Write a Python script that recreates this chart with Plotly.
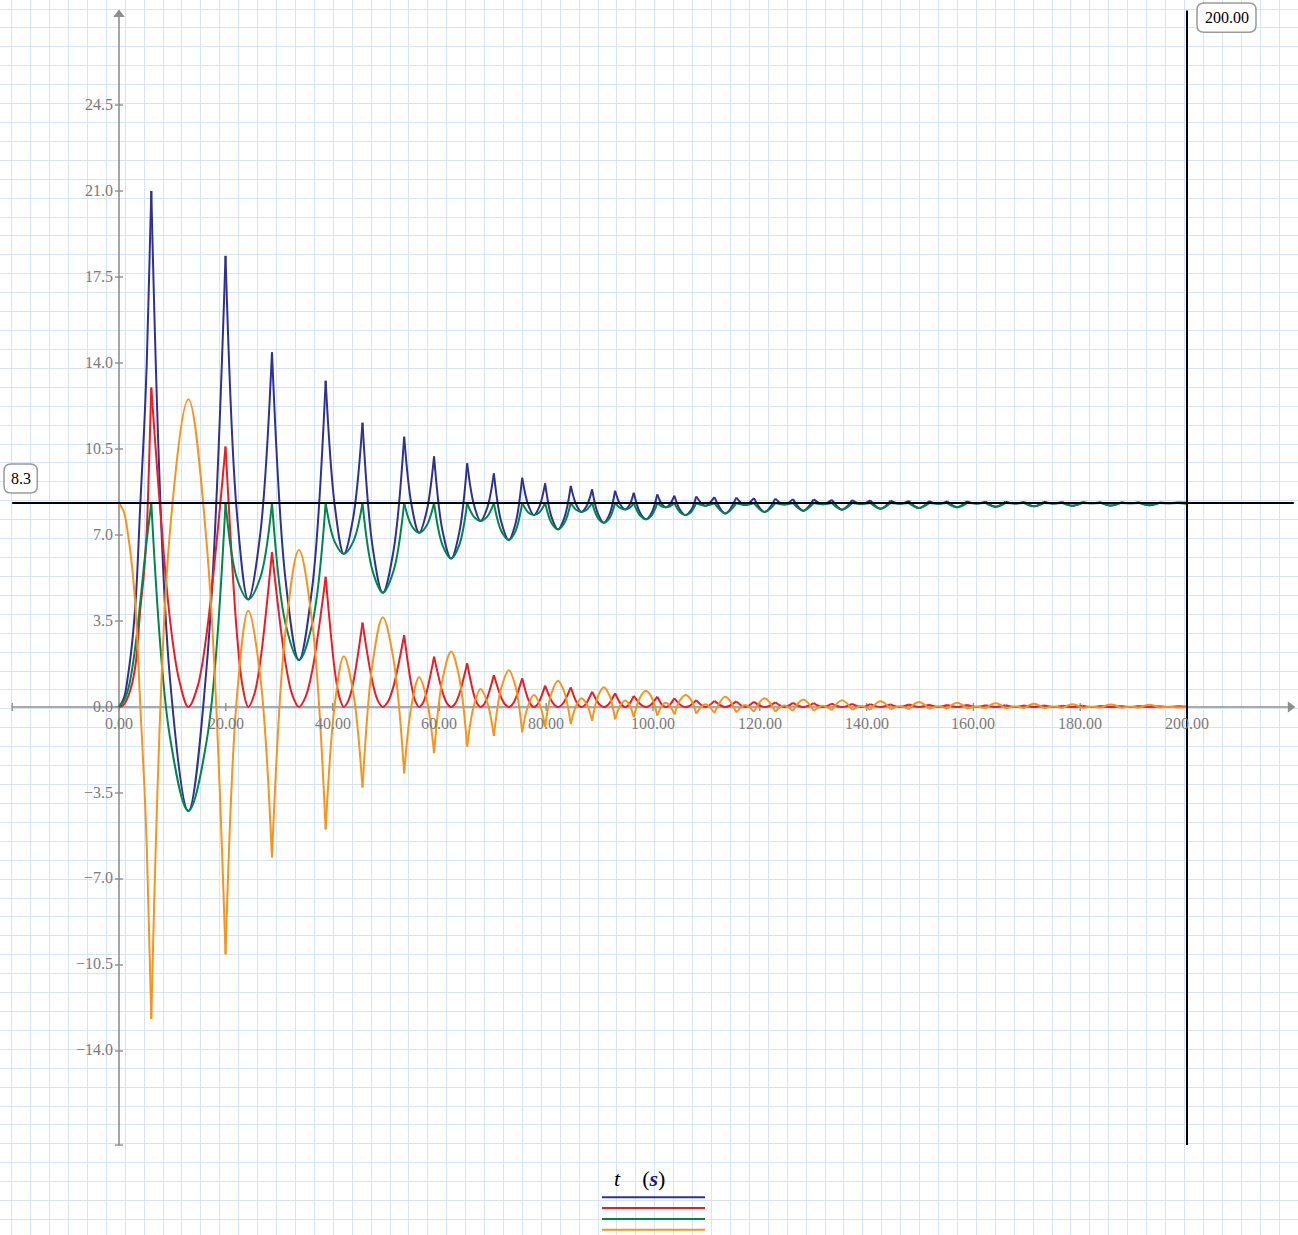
import plotly.graph_objects as go

# ------------------------------------------------------------------
# DATA
# ------------------------------------------------------------------
X_TICKS = [0, 20, 40, 60, 80, 100, 120, 140, 160, 180, 200]
X_TICK_LABELS = ["0.00", "20.00", "40.00", "60.00", "80.00", "100.00",
                 "120.00", "140.00", "160.00", "180.00", "200.00"]
Y_TICKS = [-14.0, -10.5, -7.0, -3.5, 0.0, 3.5, 7.0, 10.5, 14.0, 17.5, 21.0, 24.5]
Y_TICK_LABELS = ["\u221214.0", "\u221210.5", "\u22127.0", "\u22123.5", "0.0", "3.5",
                 "7.0", "10.5", "14.0", "17.5", "21.0", "24.5"]
AXIS_T_LIMITS = [-20.0, 220.0]
AXIS_Y_LIMITS = [-17.83, 28.35]
MARKER_Y = 8.3
MARKER_Y_LABEL = "8.3"
MARKER_T = 200.0
MARKER_T_LABEL = "200.00"

# start of the motion (t = 0 .. first impact)
START_T = [0.0, 0.9, 1.75, 2.5, 3.2, 4.0, 4.7, 5.2, 5.6]
START_BLUE = [0.0, 0.35, 1.38, 2.7, 4.6, 8.3, 11.3, 14.0, 17.2]
START_RED = [0.0, 0.1, 0.45, 1.0, 1.9, 4.0, 5.5, 7.2, 9.7]
START_GREEN = [0.0, 0.25, 0.75, 1.6, 2.7, 4.3, 5.8, 6.8, 7.5]
START_ORANGE = [8.3, 7.95, 6.92, 5.6, 3.7, 0.0, -3.0, -5.7, -8.9]

# times of the sharp peaks (impacts)
CUSP_T = [6.05, 19.95, 28.65, 38.7, 45.6, 53.4, 59.0, 65.2, 70.2, 75.5, 79.8, 84.6,
          88.6, 92.9, 96.4, 100.8, 104.0, 108.1, 111.5, 115.6, 118.9, 122.9, 126.2,
          130.1, 133.5, 137.3, 140.7, 144.5, 147.9, 151.7, 155.1, 158.8, 162.3, 166.0,
          169.5, 173.2, 176.7, 180.4, 183.9, 187.6, 191.1, 194.8, 198.3]
# times of the smooth turning points between impacts
MIN_T = [13.0, 24.2, 33.7, 42.1, 49.4, 56.2, 62.2, 67.7, 73.0, 77.7, 82.2, 86.6, 90.8,
         94.8, 98.7, 102.4, 106.1, 109.8, 113.55, 117.25, 120.9, 124.55, 128.15, 131.8,
         135.4, 139.0, 142.6, 146.2, 149.8, 153.4, 156.95, 160.55, 164.15, 167.75,
         171.35, 174.95, 178.55, 182.15, 185.75, 189.35, 192.95, 196.55]

BLUE_CUSP = [21.0, 18.36, 14.44, 13.28, 11.57, 11.0, 10.2, 9.92, 9.51, 9.33, 9.1, 9.0,
             8.86, 8.8, 8.72, 8.65, 8.6, 8.57, 8.54, 8.52, 8.5, 8.48, 8.46, 8.45, 8.43,
             8.42, 8.41, 8.4, 8.39, 8.38, 8.37, 8.37, 8.36, 8.36, 8.35, 8.35, 8.34, 8.34,
             8.33, 8.33, 8.33, 8.32, 8.32]
RED_CUSP = [13.0, 10.6, 6.3, 5.3, 3.43, 2.93, 2.05, 1.78, 1.3, 1.17, 0.87, 0.8, 0.62,
            0.56, 0.45, 0.42, 0.35, 0.28, 0.25, 0.23, 0.21, 0.19, 0.17, 0.16, 0.14, 0.13,
            0.12, 0.11, 0.1, 0.09, 0.08, 0.08, 0.07, 0.07, 0.06, 0.06, 0.05, 0.05, 0.04,
            0.04, 0.04, 0.03, 0.03]
GREEN_CUSP = [8.3, 8.3, 8.3, 8.3, 8.3, 8.3, 8.3, 8.3, 8.3, 8.3, 8.3, 8.3, 8.3, 8.3, 8.3,
              8.3, 8.3, 8.3, 8.3, 8.3, 8.3, 8.3, 8.3, 8.3, 8.3, 8.3, 8.3, 8.3, 8.3, 8.3,
              8.3, 8.3, 8.3, 8.3, 8.3, 8.3, 8.3, 8.3, 8.3, 8.3, 8.3, 8.3, 8.3]
ORANGE_CUSP = [-12.7, -10.06, -6.12, -4.98, -3.27, -2.7, -1.88, -1.61, -1.18, -1.03,
               -0.8, -0.7, -0.56, -0.5, -0.42, -0.35, -0.3, -0.27, -0.24, -0.22, -0.2,
               -0.18, -0.16, -0.15, -0.13, -0.12, -0.11, -0.1, -0.09, -0.08, -0.07,
               -0.07, -0.06, -0.06, -0.05, -0.05, -0.04, -0.04, -0.03, -0.03, -0.03,
               -0.02, -0.02]

GREEN_MIN = [-4.23, 4.38, 1.91, 6.23, 4.65, 7.09, 6.04, 7.57, 6.8, 7.81, 7.23, 7.94, 7.5,
             8.04, 7.64, 8.13, 7.81, 8.19, 7.88, 8.22, 7.94, 8.24, 7.99, 8.25, 8.03, 8.26,
             8.07, 8.27, 8.1, 8.27, 8.13, 8.28, 8.15, 8.28, 8.17, 8.28, 8.19, 8.29, 8.2,
             8.29, 8.21, 8.29]
BLUE_MIN = [-4.23, 4.38, 1.91, 6.23, 4.65, 7.09, 6.04, 7.57, 6.8, 7.81, 7.23, 7.94, 7.5,
            8.04, 7.64, 8.13, 7.81, 8.19, 7.88, 8.22, 7.94, 8.24, 7.99, 8.25, 8.03, 8.26,
            8.07, 8.27, 8.1, 8.27, 8.13, 8.28, 8.15, 8.28, 8.17, 8.28, 8.19, 8.29, 8.2,
            8.29, 8.21, 8.29]
RED_MIN = [0.0, 0.0, 0.0, 0.0, 0.0, 0.0, 0.0, 0.0, 0.0, 0.0, 0.0, 0.0, 0.0, 0.0, 0.0, 0.0,
           0.0, 0.0, 0.0, 0.0, 0.0, 0.0, 0.0, 0.0, 0.0, 0.0, 0.0, 0.0, 0.0, 0.0, 0.0, 0.0,
           0.0, 0.0, 0.0, 0.0, 0.0, 0.0, 0.0, 0.0, 0.0, 0.0]
ORANGE_MIN = [12.53, 3.92, 6.39, 2.07, 3.65, 1.21, 2.26, 0.73, 1.5, 0.49, 1.07, 0.36, 0.8,
              0.26, 0.66, 0.17, 0.49, 0.11, 0.42, 0.08, 0.36, 0.06, 0.31, 0.05, 0.27, 0.04,
              0.23, 0.03, 0.2, 0.03, 0.17, 0.02, 0.15, 0.02, 0.13, 0.02, 0.11, 0.01, 0.1,
              0.01, 0.09, 0.01]

# values half-way between a peak and the neighbouring turning point (left / right of it)
GREEN_SIDE_L = [-1.2, 5.24, 3.4, 6.72, 5.53, 7.38, 6.58, 7.75, 7.16, 7.93, 7.49, 8.03, 7.69, 8.1, 7.8, 8.17, 7.93]
GREEN_SIDE_R = [-1.3, 5.24, 3.4, 6.72, 5.53, 7.38, 6.58, 7.75, 7.16, 7.93, 7.49, 8.03, 7.69, 8.1, 7.8, 8.17, 7.93]
RED_SIDE_L = [3.6, 3.0, 1.8, 1.5, 0.98, 0.84, 0.6, 0.51, 0.37, 0.33, 0.25, 0.23, 0.18, 0.16, 0.13, 0.12, 0.1]
RED_SIDE_R = [3.1, 1.8, 1.5, 0.98, 0.84, 0.6, 0.51, 0.37, 0.33, 0.25, 0.23, 0.18, 0.16, 0.13, 0.12, 0.1, 0.08]
BLUE_SIDE_L = [1.2, 7.9, 5.2, 8.2, 6.5, 8.2, 7.15, 8.25, 7.52, 8.25, 7.73, 8.25, 7.86, 8.25, 7.92, 8.28, 8.03]
BLUE_SIDE_R = [1.8, 7.0, 4.9, 7.7, 6.35, 7.95, 7.08, 8.1, 7.47, 8.17, 7.7, 8.19, 7.84, 8.22, 7.91, 8.26, 8.0]
ORANGE_SIDE_L = [7.1, 0.4, 3.1, 0.1, 1.8, 0.1, 1.15, 0.05, 0.78, 0.05, 0.57, 0.05, 0.44, 0.05, 0.38, 0.02, 0.27]
ORANGE_SIDE_R = [6.5, 1.3, 3.4, 0.6, 1.95, 0.35, 1.22, 0.2, 0.83, 0.13, 0.6, 0.11, 0.46, 0.08, 0.39, 0.04, 0.3]
# red values a quarter of the way from the turning point towards the peaks
RED_NEAR_L = [1.1, 0.85, 0.5, 0.42, 0.27, 0.23, 0.16, 0.14, 0.1, 0.09, 0.07, 0.06, 0.05, 0.045, 0.036, 0.034, 0.028]
RED_NEAR_R = [0.85, 0.5, 0.42, 0.27, 0.23, 0.16, 0.14, 0.1, 0.09, 0.07, 0.06, 0.05, 0.045, 0.036, 0.034, 0.028, 0.022]

END_T = 200.0
END_BLUE = 8.31
END_RED = 0.01
END_GREEN = 8.27
END_ORANGE = -0.01

# ------------------------------------------------------------------
# STYLE / LAYOUT
# ------------------------------------------------------------------
W, H = 1298, 1235
T0_PX, PX_PER_T = 119.0, 5.34      # pixel column of t = 0, pixels per second
Y0_PX, PX_PER_Y = 707.0, 24.57     # pixel row of value 0, pixels per unit
GRID_STEP = 18.915
GRID_X0, GRID_Y0 = 11.7, 9.0

FONT = "Liberation Serif, DejaVu Serif, serif"
AXIS_COLOR = "#8e8e8e"
TICK_TEXT = "#7a7a7a"
GRID_COLOR = "#d3e5f7"
C_BLUE, C_RED, C_GREEN, C_ORANGE = "#2e3192", "#ed1c24", "#00854a", "#f7941d"

x_range = [(0 - T0_PX) / PX_PER_T, (W - T0_PX) / PX_PER_T]
y_range = [(Y0_PX - H) / PX_PER_Y, Y0_PX / PX_PER_Y]
dt_px = 1.0 / PX_PER_T
dy_px = 1.0 / PX_PER_Y


def px2paper(x, y):
    return x / W, 1 - y / H


def build(start_vals, cusp, vmin, side_l, side_r, end_val, near_l=(), near_r=()):
    xs = list(START_T) + [CUSP_T[0]]
    ys = list(start_vals) + [cusp[0]]
    for k in range(len(MIN_T)):
        c0, m, c1 = CUSP_T[k], MIN_T[k], CUSP_T[k + 1]
        sx, sy = [c0], [cusp[k]]
        if k < len(side_l):
            sx.append(m - 0.5 * (m - c0))
            sy.append(side_l[k])
        if k < len(near_l):
            sx.append(m - 0.25 * (m - c0))
            sy.append(near_l[k])
        sx.append(m)
        sy.append(vmin[k])
        if k < len(near_r):
            sx.append(m + 0.25 * (c1 - m))
            sy.append(near_r[k])
        if k < len(side_r):
            sx.append(m + 0.5 * (c1 - m))
            sy.append(side_r[k])
        sx.append(c1)
        sy.append(cusp[k + 1])
        xs += [None] + sx
        ys += [None] + sy
    xs += [None, CUSP_T[-1], END_T]
    ys += [None, cusp[-1], end_val]
    return xs, ys


fig = go.Figure()

# ---- axes drawn as lines through the data scales ----
fig.add_trace(go.Scatter(x=AXIS_T_LIMITS, y=[0, 0], mode="lines",
                         line=dict(color=AXIS_COLOR, width=1.6), hoverinfo="skip"))
fig.add_trace(go.Scatter(x=[0, 0], y=AXIS_Y_LIMITS, mode="lines",
                         line=dict(color=AXIS_COLOR, width=1.6), hoverinfo="skip"))
fig.add_trace(go.Scatter(x=[AXIS_T_LIMITS[1] - 3.5 * dt_px], y=[0], mode="markers",
                         marker=dict(symbol="triangle-right", size=10, color=AXIS_COLOR),
                         hoverinfo="skip"))
fig.add_trace(go.Scatter(x=[0], y=[AXIS_Y_LIMITS[1] - 4 * dy_px], mode="markers",
                         marker=dict(symbol="triangle-up", size=10, color=AXIS_COLOR),
                         hoverinfo="skip"))
fig.add_trace(go.Scatter(x=[AXIS_T_LIMITS[0], AXIS_T_LIMITS[0], None, -4 * dt_px, 4 * dt_px],
                         y=[-4 * dy_px, 4 * dy_px, None, AXIS_Y_LIMITS[0], AXIS_Y_LIMITS[0]],
                         mode="lines", line=dict(color=AXIS_COLOR, width=1.4), hoverinfo="skip"))
tx, ty = [], []
for t in X_TICKS:
    tx += [t, t, None]
    ty += [-4 * dy_px, 4 * dy_px, None]
for v in Y_TICKS:
    tx += [-4 * dt_px, 4 * dt_px, None]
    ty += [v, v, None]
fig.add_trace(go.Scatter(x=tx, y=ty, mode="lines", line=dict(color=AXIS_COLOR, width=1.4),
                         hoverinfo="skip"))

# ---- curves ----
series = [
    ((START_BLUE, BLUE_CUSP, BLUE_MIN, BLUE_SIDE_L, BLUE_SIDE_R, END_BLUE), C_BLUE),
    ((START_RED, RED_CUSP, RED_MIN, RED_SIDE_L, RED_SIDE_R, END_RED, RED_NEAR_L, RED_NEAR_R), C_RED),
    ((START_GREEN, GREEN_CUSP, GREEN_MIN, GREEN_SIDE_L, GREEN_SIDE_R, END_GREEN), C_GREEN),
    ((START_ORANGE, ORANGE_CUSP, ORANGE_MIN, ORANGE_SIDE_L, ORANGE_SIDE_R, END_ORANGE), C_ORANGE),
]
for vals, color in series:
    xs, ys = build(*vals)
    fig.add_trace(go.Scatter(x=xs, y=ys, mode="lines",
                             line=dict(color=color, width=2, shape="spline", smoothing=1.0),
                             connectgaps=False, hoverinfo="skip"))

# ---- marker lines ----
fig.add_trace(go.Scatter(x=AXIS_T_LIMITS, y=[MARKER_Y, MARKER_Y], mode="lines",
                         line=dict(color="black", width=2), hoverinfo="skip"))
fig.add_trace(go.Scatter(x=[MARKER_T, MARKER_T], y=[AXIS_Y_LIMITS[0], AXIS_Y_LIMITS[1]], mode="lines",
                         line=dict(color="black", width=2), hoverinfo="skip"))

annotations = []
for t, lab in zip(X_TICKS, X_TICK_LABELS):
    annotations.append(dict(x=t, y=0, xref="x", yref="y", text=lab, showarrow=False,
                            xanchor="center", yanchor="middle", yshift=-16,
                            font=dict(family=FONT, size=16, color=TICK_TEXT)))
for v, lab in zip(Y_TICKS, Y_TICK_LABELS):
    annotations.append(dict(x=0, y=v, xref="x", yref="y", text=lab, showarrow=False,
                            xanchor="right", yanchor="middle", xshift=-4, yshift=1,
                            font=dict(family=FONT, size=16, color=TICK_TEXT)))


def rrect(x0, y0, x1, y1, r):
    def P(x, y):
        a, b = px2paper(x, y)
        return f"{a:.6f},{b:.6f}"
    return (f"M {P(x0 + r, y0)} L {P(x1 - r, y0)} Q {P(x1, y0)} {P(x1, y0 + r)} "
            f"L {P(x1, y1 - r)} Q {P(x1, y1)} {P(x1 - r, y1)} L {P(x0 + r, y1)} "
            f"Q {P(x0, y1)} {P(x0, y1 - r)} L {P(x0, y0 + r)} Q {P(x0, y0)} {P(x0 + r, y0)} Z")


shapes = []
my_px = Y0_PX - MARKER_Y * PX_PER_Y
shapes.append(dict(type="path", xref="paper", yref="paper", layer="above",
                   path=rrect(4, my_px - 39, 37.3, my_px - 10, 7),
                   line=dict(color="#9b9b9b", width=1.5), fillcolor="white"))
lx, ly = px2paper(20.7, my_px - 24.5)
annotations.append(dict(x=lx, y=ly, xref="paper", yref="paper", text=MARKER_Y_LABEL,
                        showarrow=False, xanchor="center", yanchor="middle",
                        font=dict(family=FONT, size=16, color="black")))
mt_px = T0_PX + MARKER_T * PX_PER_T
shapes.append(dict(type="path", xref="paper", yref="paper", layer="above",
                   path=rrect(mt_px + 10, 3, mt_px + 69, 32.3, 7),
                   line=dict(color="#9b9b9b", width=1.5), fillcolor="white"))
lx, ly = px2paper(mt_px + 39.5, 17.7)
annotations.append(dict(x=lx, y=ly, xref="paper", yref="paper", text=MARKER_T_LABEL,
                        showarrow=False, xanchor="center", yanchor="middle",
                        font=dict(family=FONT, size=16, color="black")))

lx, ly = px2paper(639, 1178)
annotations.append(dict(x=lx, y=ly, xref="paper", yref="paper",
                        text="<i>t</i>\u2002\u2002(<b><i><span style=\"color:#16168a\">s</span></i></b>)",
                        showarrow=False, xanchor="center", yanchor="middle",
                        font=dict(family=FONT, size=22, color="black")))
for py, color in [(1197.3, C_BLUE), (1208.0, C_RED), (1219.0, C_GREEN), (1229.7, C_ORANGE)]:
    a0, b0 = px2paper(602, py)
    a1, b1 = px2paper(705, py)
    shapes.append(dict(type="line", xref="paper", yref="paper", x0=a0, y0=b0, x1=a1, y1=b1,
                       line=dict(color=color, width=2)))

fig.update_layout(
    width=W, height=H, margin=dict(l=0, r=0, t=0, b=0, pad=0),
    paper_bgcolor="white", plot_bgcolor="white", showlegend=False,
    xaxis=dict(range=x_range, showgrid=True, gridcolor=GRID_COLOR, gridwidth=1,
               tick0=(GRID_X0 - T0_PX) / PX_PER_T, dtick=GRID_STEP / PX_PER_T,
               showticklabels=False, ticks="", zeroline=False, showline=False, fixedrange=True),
    yaxis=dict(range=y_range, showgrid=True, gridcolor=GRID_COLOR, gridwidth=1,
               tick0=(Y0_PX - GRID_Y0) / PX_PER_Y, dtick=GRID_STEP / PX_PER_Y,
               showticklabels=False, ticks="", zeroline=False, showline=False, fixedrange=True),
    annotations=annotations, shapes=shapes,
)

fig.write_html("out.html", config={"displayModeBar": False},
               post_script="document.body.style.margin='0px';document.body.style.overflow='hidden';")
